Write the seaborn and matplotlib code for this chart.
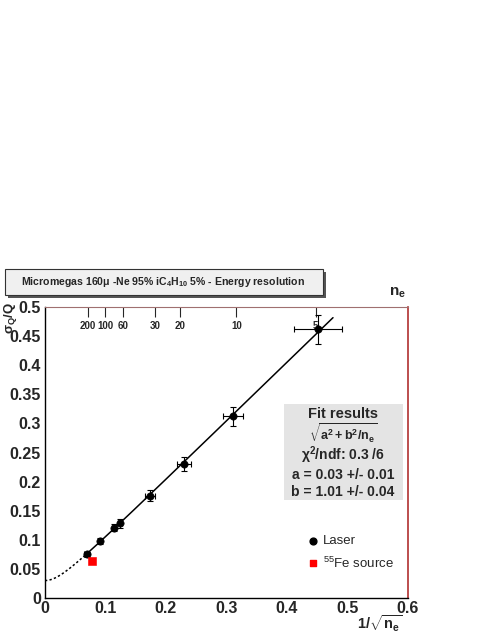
import numpy as np
import pandas as pd
import matplotlib.pyplot as plt
import seaborn as sns
from matplotlib.patches import Rectangle
from matplotlib.ticker import MultipleLocator, FixedLocator

# laser points: x = 1/sqrt(n_e), y = sigma_Q/Q
laser_x = [0.069, 0.091, 0.114, 0.124, 0.174, 0.230, 0.311, 0.451]
laser_y = [0.075, 0.098, 0.121, 0.128, 0.176, 0.230, 0.312, 0.462]
laser_xerr = [0.004, 0.004, 0.004, 0.004, 0.008, 0.012, 0.016, 0.040]
laser_yerr = [0.004, 0.005, 0.006, 0.007, 0.009, 0.012, 0.016, 0.025]

fe_x = [0.078]
fe_y = [0.064]

# fit parameters (sqrt(a^2 + b^2/n_e))
fit_a = 0.03
fit_b = 1.01

ne_ticks = [200, 100, 60, 30, 20, 10, 5]
x_ticks = [0, 0.1, 0.2, 0.3, 0.4, 0.5, 0.6]
x_labels = ['0', '0.1', '0.2', '0.3', '0.4', '0.5', '0.6']
y_ticks = [0, 0.05, 0.1, 0.15, 0.2, 0.25, 0.3, 0.35, 0.4, 0.45, 0.5]
y_labels = ['0', '0.05', '0.1', '0.15', '0.2', '0.25', '0.3', '0.35', '0.4', '0.45', '0.5']

sns.set_style("white")
plt.rcParams['font.family'] = ['Liberation Sans', 'DejaVu Sans']
plt.rcParams['mathtext.fontset'] = 'custom'
plt.rcParams['mathtext.rm'] = 'Liberation Sans'
plt.rcParams['mathtext.bf'] = 'Liberation Sans:bold'
plt.rcParams['mathtext.it'] = 'Liberation Sans:italic'
plt.rcParams['mathtext.default'] = 'regular'

fig = plt.figure(figsize=(4.91, 6.35), dpi=100)
ax = fig.add_axes([0.0916, 0.0583, 0.7394, 0.4582])

# fit curve: dotted below first point, solid over the data range
xs_dot = np.linspace(0, laser_x[0], 40)
xs_sol = np.linspace(laser_x[0], 0.476, 200)
fit_dot = pd.DataFrame({'x': xs_dot, 'y': np.sqrt(fit_a**2 + fit_b**2 * xs_dot**2)})
fit_sol = pd.DataFrame({'x': xs_sol, 'y': np.sqrt(fit_a**2 + fit_b**2 * xs_sol**2)})
sns.lineplot(data=fit_dot, x='x', y='y', ax=ax, color='black', lw=1.1, linestyle=(0, (1.5, 1.5)))
sns.lineplot(data=fit_sol, x='x', y='y', ax=ax, color='black', lw=1.1)

ax.errorbar(laser_x, laser_y, xerr=laser_xerr, yerr=laser_yerr, fmt='none',
            ecolor='black', elinewidth=0.8, capsize=2, capthick=0.8)
laser = pd.DataFrame({'x': laser_x, 'y': laser_y})
sns.scatterplot(data=laser, x='x', y='y', ax=ax, color='black', s=28, edgecolor='black', zorder=5)
fe = pd.DataFrame({'x': fe_x, 'y': fe_y})
sns.scatterplot(data=fe, x='x', y='y', ax=ax, color='red', marker='s', s=28, edgecolor='red', zorder=5)

ax.set_xlabel('')
ax.set_ylabel('')
ax.set_xticks(x_ticks)
ax.set_xticklabels(x_labels)
ax.set_yticks(y_ticks)
ax.set_yticklabels(y_labels)
ax.xaxis.set_minor_locator(MultipleLocator(0.02))
ax.yaxis.set_minor_locator(MultipleLocator(0.01))
ax.set_xlim(0, 0.6)
ax.set_ylim(0, 0.5)
ax.tick_params(which='both', direction='in', top=False, right=False, labelsize=11.5)
ax.tick_params(axis='x', pad=2)
ax.tick_params(axis='y', pad=3)
ax.tick_params(which='major', length=8, width=0.8, color='black')
ax.tick_params(which='minor', length=4, width=0.8, color='black')
for lbl in ax.get_xticklabels() + ax.get_yticklabels():
    lbl.set_fontweight('bold')

for side in ['left', 'bottom']:
    ax.spines[side].set_color('black')
    ax.spines[side].set_linewidth(1.0)
ax.spines['right'].set_color('#b03030')
ax.spines['top'].set_color('#a07070')
ax.spines['right'].set_linewidth(1.2)

# secondary n_e axis on top
top = ax.secondary_xaxis('top', functions=(lambda x: x, lambda x: x))
top.xaxis.set_major_locator(FixedLocator([1 / np.sqrt(n) for n in ne_ticks]))
top.set_xticklabels([str(n) for n in ne_ticks])
top.tick_params(direction='in', length=7, width=0.8, pad=-17, labelsize=7)
for lbl in top.get_xticklabels():
    lbl.set_fontweight('bold')
top.spines['top'].set_visible(False)

fig.text(0.793, 0.527, r'$\mathbf{n_e}$', fontsize=11, ha='left', va='bottom')
fig.text(0.021, 0.524, r'$\sigma_Q$/Q', fontsize=9.5, rotation=90, ha='center', va='top',
         fontweight='bold')
fig.text(0.818, 0.002, r'1/$\sqrt{\mathbf{n_e}}$', fontsize=10.5, ha='right', va='bottom',
         fontweight='bold')

# title box
fig.patches.append(Rectangle((0.016, 0.531), 0.647, 0.041, transform=fig.transFigure,
                             facecolor='#555555', edgecolor='none', zorder=0))
fig.patches.append(Rectangle((0.010, 0.535), 0.647, 0.041, transform=fig.transFigure,
                             facecolor='#f0f0f0', edgecolor='#333333', lw=0.8, zorder=1))
fig.text(0.333, 0.5555, r'Micromegas 160$\mu$ -Ne 95% iC$_4$H$_{10}$ 5% - Energy resolution',
         fontsize=7.6, fontweight='bold', ha='center', va='center', zorder=2)

# fit results box
ax.add_patch(Rectangle((0.395, 0.168), 0.196, 0.165, facecolor='#e4e4e4',
                       edgecolor='none', zorder=3))
cx = 0.4925
ax.text(cx, 0.3155, 'Fit results', fontsize=10.5, fontweight='bold', ha='center', va='center', zorder=4)
ax.text(cx, 0.283, r'$\sqrt{\mathbf{a^2+b^2/n_e}}$', fontsize=9, ha='center',
        va='center', zorder=4)
ax.text(cx, 0.245, r'$\chi^{2}$/ndf: 0.3 /6', fontsize=10, fontweight='bold', ha='center',
        va='center', zorder=4)
ax.text(cx, 0.211, 'a = 0.03 +/- 0.01', fontsize=10, fontweight='bold', ha='center',
        va='center', zorder=4)
ax.text(cx, 0.182, 'b = 1.01 +/- 0.04', fontsize=10, fontweight='bold', ha='center',
        va='center', zorder=4)

# legend
ax.scatter([0.443], [0.098], s=24, color='black', zorder=5)
ax.text(0.459, 0.098, 'Laser', fontsize=9.5, ha='left', va='center')
ax.scatter([0.443], [0.060], s=24, color='red', marker='s', zorder=5)
ax.text(0.459, 0.060, r'$^{55}$Fe source', fontsize=9.5, ha='left', va='center')

fig.savefig('out.png', dpi=100)
